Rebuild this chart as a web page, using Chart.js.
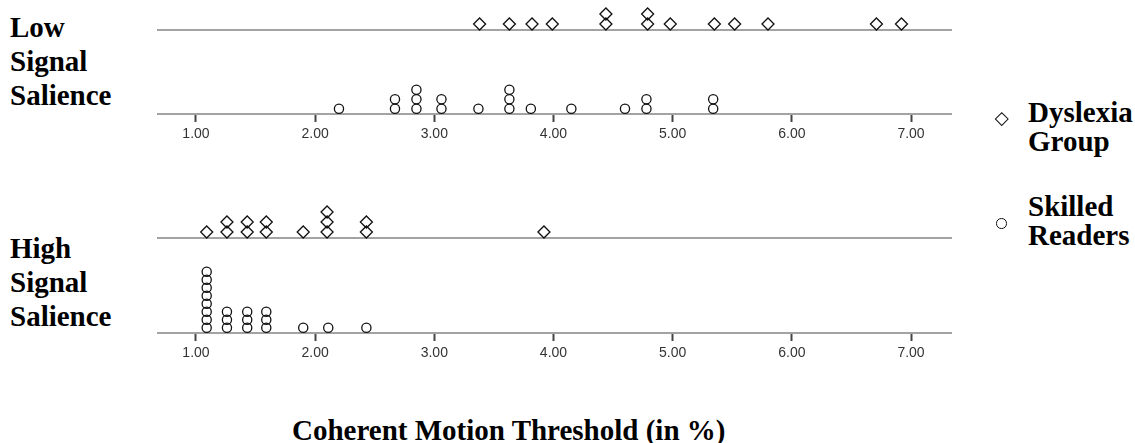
<!DOCTYPE html>
<html>
<head>
<meta charset="utf-8">
<script src="https://cdn.jsdelivr.net/npm/chart.js@4/dist/chart.umd.min.js"></script>
<style>
    html, body { margin: 0; padding: 0; background: #fff; }
    body { position: relative; width: 1135px; height: 443px; overflow: hidden; }
    canvas { position: absolute; left: 157px; }
    .serif {
        position: absolute;
        font-family: "Liberation Serif", "Times New Roman", serif;
        font-weight: bold;
        font-size: 29px;
        color: #000;
        white-space: nowrap;
    }
    .side { left: 10px; line-height: 34px; }
    .key { left: 1028px; line-height: 29px; }
    .mark { position: absolute; box-sizing: border-box; border: 1.4px solid #111; }
</style>
</head>
<body>

<canvas id="lowDys" width="795" height="34" style="top:0px"></canvas>
<canvas id="lowSkl" width="795" height="71" style="top:76px"></canvas>
<canvas id="highDys" width="795" height="44" style="top:198px"></canvas>
<canvas id="highSkl" width="795" height="105" style="top:261px"></canvas>

<div class="serif side" style="top:10px">Low<br>Signal<br>Salience</div>
<div class="serif side" style="top:231px">High<br>Signal<br>Salience</div>

<div class="mark" style="left:997px; top:114px; width:9.5px; height:9.5px; transform:rotate(45deg)"></div>
<div class="serif key" style="top:98px">Dyslexia<br>Group</div>
<div class="mark" style="left:996px; top:218px; width:10.5px; height:10.5px; border-radius:50%"></div>
<div class="serif key" style="top:192px">Skilled<br>Readers</div>

<div class="serif" style="left:292px; top:413px; line-height:34px">Coherent Motion Threshold (in %)</div>

<script>
// x axis (coherent motion threshold, %)
const xMin = 0.673;
const xMax = 7.344;
const tickValues = [1, 2, 3, 4, 5, 6, 7];
const tickLabels = ['1.00', '2.00', '3.00', '4.00', '5.00', '6.00', '7.00'];

// low signal salience
const lowDyslexia = [3.38, 3.63, 3.82, 3.99, 4.44, 4.44, 4.79, 4.79, 4.98, 5.35, 5.52, 5.80, 6.71, 6.92];
const lowSkilled = [2.20, 2.67, 2.67, 2.85, 2.85, 2.85, 3.06, 3.06, 3.37, 3.63, 3.63, 3.63,
                    3.81, 4.15, 4.60, 4.78, 4.78, 5.34, 5.34];

// high signal salience
const highDyslexia = [1.09, 1.26, 1.26, 1.43, 1.43, 1.59, 1.59, 1.90, 2.10, 2.10, 2.10, 2.43, 2.43, 3.92];
const highSkilled = [1.09, 1.09, 1.09, 1.09, 1.09, 1.09, 1.09, 1.09, 1.26, 1.26, 1.26,
                     1.43, 1.43, 1.43, 1.59, 1.59, 1.59, 1.90, 2.11, 2.43];

// dot plot: repeated values pile up on top of each other
function stackDots(values, lift) {
    const counts = {};
    return values.map(v => {
        const n = counts[v] || 0;
        counts[v] = n + 1;
        return { x: v, y: n + lift };
    });
}

// one baseline strip = one small chart
function makeStrip(id, values, opts) {
    const ctx = document.getElementById(id).getContext('2d');
    return new Chart(ctx, {
        type: 'scatter',
        data: {
            datasets: [{
                data: stackDots(values, opts.lift),
                pointStyle: opts.marker,
                pointRadius: opts.radius,
                pointBorderColor: '#111',
                pointBackgroundColor: 'rgba(0,0,0,0)',
                pointBorderWidth: 1.3,
                clip: false
            }]
        },
        options: {
            responsive: false,
            animation: false,
            events: [],
            layout: {
                autoPadding: false,
                padding: { left: 0, right: 0, top: 0, bottom: opts.ticks ? 0 : 4 }
            },
            plugins: {
                legend: { display: false },
                tooltip: { enabled: false }
            },
            scales: {
                x: {
                    type: 'linear',
                    min: xMin,
                    max: xMax,
                    afterBuildTicks: axis => {
                        axis.ticks = tickValues.map(v => ({ value: v }));
                    },
                    border: { display: true, color: '#a3a3a3', width: 2 },
                    grid: {
                        drawOnChartArea: false,
                        drawTicks: opts.ticks,
                        tickLength: 8,
                        tickColor: '#444',
                        tickWidth: 2
                    },
                    ticks: {
                        display: opts.ticks,
                        padding: 4,
                        color: '#333',
                        font: { family: '"Liberation Sans", Arial, sans-serif', size: 14, lineHeight: '17px' },
                        callback: (v, i) => tickLabels[i]
                    }
                },
                y: { display: false, min: 0, max: opts.yMax }
            }
        }
    });
}

makeStrip('lowDys', lowDyslexia, { marker: 'rectRot', radius: 6, lift: 0.6, yMax: 3, ticks: false });
makeStrip('lowSkl', lowSkilled, { marker: 'circle', radius: 4.6, lift: 0.55, yMax: 4, ticks: true });
makeStrip('highDys', highDyslexia, { marker: 'rectRot', radius: 6, lift: 0.6, yMax: 4, ticks: false });
makeStrip('highSkl', highSkilled, { marker: 'circle', radius: 4.6, lift: 0.66, yMax: 9, ticks: true });
</script>
</body>
</html>
